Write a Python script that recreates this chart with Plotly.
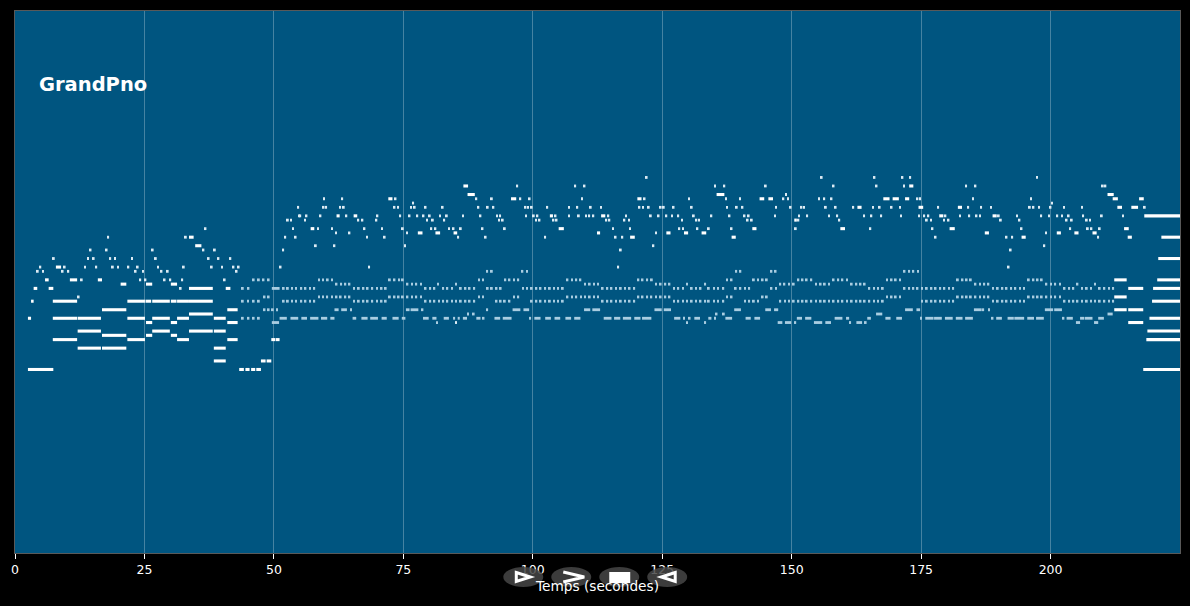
import plotly.graph_objects as go

WHITE_NOTES = "#ffffff"
PALE_NOTES = "#dcebf4"
SOFT_NOTES = "#a9cde1"
SHORT = 0.34

# Each list is one pitch row: a bare number is a short note (its time in seconds),
# a pair is (start, end) in seconds.
m43 = [(2.5,7.4),(43.3,44.2),(44.5,45.3),(45.6,46.4),(46.6,47.5),(217.9,225)]
m45 = [(38.4,40.7),(47.5,48.4),(48.6,49.5)]
m48 = [(12.1,16.6),(16.8,21.5),(38.4,40.7)]
m50 = [(7.3,12),(21.7,25.1),(31.3,33.6),(41,43),(49.5,50.3),(50.4,51.1),(218.5,225)]
m51 = [(16.8,21.5),(25.3,26.5),(30.1,31.3)]
m52 = [(12.1,16.6),(26.5,29.9),(33.6,38.2),(38.4,40.7),(218.7,225)]
m54 = [(25.3,26.5),(30.1,31.3),(41,43),(215,217.9),85.2]
m55 = [(2.5,3.1),(7.3,12),(12.1,16.6),(21.7,25.1),(26.5,29.9),(31.3,33.6),(38.4,40.7),(219.1,225)]
m56 = [(33.6,38.2)]
m57 = [(16.8,21.5),(41,43),(212.3,214.7),(215,217.9)]
m59 = [(3.1,3.6),(7.3,12),(21.7,25.1),(25.2,26.3),(26.5,29.9),(30.1,31.2),(31.3,33.6),(33.6,38.2),(219.6,225)]
m60 = [12.3,(212.3,214.7)]
m62 = [(3.6,4.3),(6.5,7.4),32,(33.6,38.2),(40.7,41.6),(215,217.9),(219.8,225)]
m63 = [(20.4,21.5),(25.3,26.5),(30.1,31.3)]
m64 = [(5.8,6.5),(10.6,12),12.9,(16,16.8),24.2,25.2,28.9,30,32.3,40.5,(212.3,214.7),(220.6,225)]
m66 = [4.4,5.4,9.2,10.3,23.3,24.7,28.3,29.5,42.8]
m67 = [4.9,(7.9,8.9),9.6,13.5,15.7,18.9,19.9,21.9,23.7,27.6,32.6,38,40,42.2,43.2,51.3,68.4,116.5,191.9]
m69 = [7.5,14.1,15.2,18.4,19.3,22.6,27.2,37.4,39.3,41.6,(220.8,225)]
m71 = [14.6,17.7,26.6,36.4,38.6,51.8,117,192.3]
m72 = [(34.8,36),58.1,61.7,75.3,123.3,198.8]
m74 = [18,33,(33.6,34.5),52.2,54.2,68,71.4,85.6,90.9,102.4,116,117.3,(118.8,119.7),(138.4,139.2),177.8,191.5,192.6,(194.4,195.2),209.2,(214.9,215.7),(221.4,225)]
m75 = [62,64.6,75.7,(77.8,78.7),(81.2,82.1),(84.7,85.4),(112.4,113),123.8,(125.8,126.6),(129.2,130),(132.6,133.5),(187.3,188.1),199.1,(201.2,202),(204.6,205.4),(208.1,208.9)]
m76 = [36.8,53.7,(57.1,57.8),58.5,61.2,67.5,70.9,74.9,80.4,81.2,83.8,84.7,86.1,90.3,94.6,(105,106),115.5,118.8,128.3,129,131.8,134,138.4,(142.4,143.2),150.8,(159.4,160.3),165.2,177.2,(180.5,181.5),194.4,203.8,207.2,207.9,209.5,(214.2,215.1)]
m78 = [52.7,53.3,56,66.3,67.1,69.8,79.6,80.7,82.9,93.5,94.2,100.6,101.3,104,104.6,114.2,114.8,117.7,118.6,128.8,131.6,132.1,141.5,142.3,(150.5,151),151.3,159.2,176.1,176.9,179.4,180.3,190.4,194,203.1,204.1,207,207.6]
m79 = [54.9,55.1,56.3,59,(62.1,62.7),64,(65.4,66.1),70,74.4,76.2,77.7,78.9,80.1,82.1,83.4,86.5,89.9,93.1,93.7,98.7,100.2,100.9,(103.3,103.9),104.4,107,108.9,110.3,110.9,111.7,(113.2,114),114.6,118,122.8,124.3,125.8,126.9,128.1,131.1,134.5,138,140.9,141.7,146.8,151.4,153,157.2,158.8,164,165.4,167.3,171.1,174.6,175.6,176.4,(178.5,179.3),179.7,182.5,184.3,185.7,186.4,(188.8,189.6),190,193.5,198.2,199.7,201.3,202.2,203.5,206.3,209.9,214,(218.1,225)]
m81 = [54.7,59.6,60.1,62.8,63.5,73.3,74,76.5,77.2,79.3,82.6,89.5,91.3,92.4,98.6,99.1,99.8,102.8,107,108.6,111.2,113.2,120.6,121.3,122.4,124.7,125.3,127.2,130.7,137.5,139.4,140.5,147,149.8,151.9,152.4,156.6,158.5,161.9,(162.7,163.5),165.7,167,169.3,170.9,(174.5,175.4),178.3,(182.1,182.9),184.1,186.6,188.5,196,196.7,197.8,200,202.6,206.1,(212.9,213.8),(215.6,216.9),218.2]
m82 = [76.9,200.3]
m83 = [59.7,63.2,(72.1,72.9),73.5,89.1,92.1,(95.8,96.8),97.6,99.4,109.5,(120.2,121),121.6,130.2,137.3,140,(143.8,144.7),(145.5,146.4),148.4,149.3,155.3,156.3,157.7,(167.7,168.9),(169.5,170.7),(171.9,172.7),174.3,174.8,185,196.2,(212,213),(217.1,218)]
m84 = [(87.4,88.8),(135.5,137),148.9,(211,212.2)]
m86 = [(86.6,87.5),97,108.2,110,135.2,137,145,158.1,166.4,171.7,(172.7,173.5),183.7,185.5,210.1,210.6]
m88 = [122,155.8,166,171.4,172.9,197.4]

a54 = [(49.6,51),81.5,129.8,133.3,(147.3,148.2),(148.7,149.9),150.7,(154.3,155.9),(156.5,157.6),161.3,(162.5,163.6),164.3,(204.9,205.7),(208.4,209.2)]
a55 = [44,45.1,46.1,47.1,(51.1,52.5),(53.2,54.7),(55.3,56.4),(57,58.6),(59.1,60.3),(60.9,61.7),(65.2,65.9),(66.9,68.1),(68.6,70.1),(70.8,71.8),(72.9,74.1),(74.7,75.4),(78.8,79.9),(80.6,81.4),(82.8,83.8),(84.6,85),(85.5,85.9),(86.5,87.3),(89.1,89.9),90.5,(92.6,93.7),(94.2,95.9),99.5,(100.3,101.5),(102.4,103.5),(104.2,105.3),(106.3,107.4),(108,109.2),(113.7,115.2),(115.7,116.9),(117.4,119),(119.6,120.8),(121.1,122.9),(127.3,128.5),129.2,130.3,(131.2,132.3),(133.9,134.5),135.2,(137.2,138.5),(141.1,142.1),(142.8,143.9),(151,152),(152.6,153.8),(158.3,159.8),(160.5,161.1),(164.6,165.3),(168.1,169.1),(170.2,171.3),175,(175.8,177.4),(177.5,179),(179.6,181.1),(181.7,183),(183.5,185),188.8,(189.5,190.6),(191.7,192.9),(193,194.9),(195.5,196.8),(197.2,198.7),202.5,(203.1,204.3),(205.7,206.5),(206.6,208.1),(209.2,210.3)]
a56 = [87.5,88.6,135.5,136.9,(166.3,167.5),(211,212)]
a57 = [48.2,49,49.8,50.6,(61.7,62.5),(63,64.1),64.9,(75.5,76.2),(76.4,77.9),78.7,91.2,(96.1,97.6),(98.2,99.3),(109.9,111.1),(111.5,113),(123.5,124.9),(125.3,126.7),(138.9,140.2),(144.9,146),(146.6,147.4),(171.9,173.4),(174.1,174.8),(185.2,186.7),187,188.1,(198.9,200.5),(200.7,202.2)]
a59 = [44,45,46.1,47.1,51.9,52.7,53.5,54.3,55.3,56.1,57,57.8,65.5,66.4,67.3,68.1,69,69.9,70.8,71.6,79.3,80.2,81,81.9,82.7,83.5,84.4,85.2,86.1,87,87.8,88.7,93,93.8,94.6,95.5,99.8,100.7,101.5,102.4,103.3,104.1,104.9,105.8,113.5,114.4,115.2,116.1,117,117.8,118.7,119.6,127.3,128.1,129,129.8,130.7,131.5,132.4,133.3,134,135,135.8,136.8,141,141.8,142.7,143.5,147.8,148.7,149.5,150.4,151.3,152.1,152.9,153.8,154.7,155.6,156.4,157.2,158.1,159,159.8,160.7,161.6,162.5,163.3,164.1,165,165.9,166.7,167.6,175.2,176.1,177,177.8,178.7,179.5,180.4,181.2,188.9,189.8,190.7,191.5,192.4,193.2,194.1,194.9,202.7,203.6,204.4,205.2,206.1,207,207.8,208.6,209.5,210.4,211.3,212.1]
a60 = [48.2,49,58.7,59.5,60.3,61.2,62.1,62.9,63.8,64.6,72.4,73.3,74.1,74.9,75.8,76.7,77.5,78.4,89.6,90.4,96.4,97.2,106.7,107.6,108.4,109.3,110.1,111,111.8,112.6,120.4,121.2,122.1,122.9,123.8,124.7,125.6,126.4,137.5,138.4,144.4,145.2,168.4,169.3,170.1,170.9,182.1,183,183.8,184.6,185.5,186.4,187.2,188,195.8,196.7,197.5,198.3,199.2,200.1,200.9,201.8]
a62 = [44,45.1,(49.6,51.1),51.9,52.7,53.5,54.3,55.3,56.1,57,57.8,65.5,66.4,67.3,68.1,69,69.9,70.8,71.6,79.3,80.2,81,82.7,83.5,84.4,86.1,87,87.8,88.7,91.3,92.1,93,93.8,98.1,98.9,99.8,100.7,101.5,102.4,103.3,104.1,104.9,105.8,113.5,114.4,115.2,116.1,117,117.8,118.7,119.6,127.3,128.1,129,130.7,131.5,132.4,134,135,135.8,136.8,139.2,140.1,141,141.8,146.1,147,165,165.9,166.7,167.6,171.8,172.7,173.5,174.3,175.2,176.1,177,177.8,178.7,179.5,180.4,181.2,188.9,189.8,190.7,191.5,192.4,193.2,194.1,194.9,202.7,203.6,204.4,206.1,207,207.8,209.5,210.4,211.3,212.1]
a63 = [62.1,63,63.8,64.6,75.8,76.7,77.5,78.4,81.7,85.2,110.1,111,111.8,112.6,123.8,124.7,125.6,126.4,129.8,133.3,147.8,148.6,149.5,150.4,154.7,155.6,156.4,157.2,161.6,162.5,163.3,164.1,185.5,186.4,187.2,188,199.2,200.1,200.9,201.8,205.2,208.6]
a64 = [46.1,47.1,48,49,58.7,59.5,60.4,61.2,72.4,73.3,74.2,74.9,89.6,90.4,94.7,95.5,96.4,97.2,106.7,107.6,108.4,109.2,120.4,121.2,122.1,123,137.5,138.4,142.7,143.5,144.4,145.2,151.3,152.1,152.9,153.8,158.1,159,159.8,160.7,168.4,169.3,170.1,170.9,182.1,183,183.8,184.6,195.8,196.7,197.5,198.3]
a66 = [91.2,92.1,98,98.9,139.3,140.1,146.1,146.9,171.8,172.7,173.5,174.4]

note_rows = [(m43,43),(m45,45),(m48,48),(m50,50),(m51,51),(m52,52),(m54,54),(m55,55),(m56,56),(m57,57),(m59,59),(m60,60),(m62,62),(m63,63),(m64,64),(m66,66),(m67,67),(m69,69),(m71,71),(m72,72),(m74,74),(m75,75),(m76,76),(m78,78),(m79,79),(m81,81),(m82,82),(m83,83),(m84,84),(m86,86),(m88,88)]
soft_rows = [(a54,54),(a55,55),(a56,56),(a57,57),(a59,59),(a60,60),(a62,62),(a63,63),(a64,64),(a66,66)]
x_ticks = [0,25,50,75,100,125,150,175,200]


def bars(rows, color, keep=lambda n: True, height=0.72):
    ys, bases, lens = [], [], []
    for notes, pitch in rows:
        for n in notes:
            if not keep(n):
                continue
            if isinstance(n, tuple):
                s, e = n
            else:
                s, e = n - SHORT / 2, n + SHORT / 2
            ys.append(pitch)
            bases.append(s)
            lens.append(e - s)
    return go.Bar(y=ys, x=lens, base=bases, orientation="h", width=height,
                  marker=dict(color=color, line=dict(width=0)),
                  showlegend=False, hoverinfo="skip")


is_long = lambda n: isinstance(n, tuple)
is_short = lambda n: not isinstance(n, tuple)
fig = go.Figure([
    bars(soft_rows, SOFT_NOTES, height=0.66),
    bars(note_rows, PALE_NOTES, is_short, height=0.66),
    bars(note_rows, WHITE_NOTES, is_long),
])

W, H = 1190, 606
L, R, T, B = 14.5, 1180, 11, 553


def to_paper(x, y):
    return (x - L) / (R - L), (B - y) / (B - T)


def path(points, close=True):
    parts = []
    for i, (x, y) in enumerate(points):
        px, py = to_paper(x, y)
        parts.append(("M" if i == 0 else "L") + f"{px:.5f},{py:.5f}")
    return " ".join(parts) + (" Z" if close else "")


shapes = []
for cx in (523, 571, 619, 667):
    x0, y0 = to_paper(cx - 20, 587)
    x1, y1 = to_paper(cx + 20, 567)
    shapes.append(dict(type="circle", xref="paper", yref="paper", x0=x0, y0=y0, x1=x1, y1=y1,
                       fillcolor="rgba(70,70,70,0.85)", line=dict(width=0), layer="above"))
shapes.append(dict(type="path", xref="paper", yref="paper", path=path([(516,572.5),(530,577),(516,581.5)]),
                   fillcolor="rgba(0,0,0,0)", line=dict(color="#ffffff", width=3), layer="above"))
shapes.append(dict(type="path", xref="paper", yref="paper", path=path([(563,572),(584,577),(563,582)], close=False),
                   fillcolor="rgba(0,0,0,0)", line=dict(color="#ffffff", width=3), layer="above"))
x0, y0 = to_paper(609, 583)
x1, y1 = to_paper(630, 572)
shapes.append(dict(type="rect", xref="paper", yref="paper", x0=x0, y0=y0, x1=x1, y1=y1,
                   fillcolor="#ffffff", line=dict(width=0), layer="above"))
shapes.append(dict(type="path", xref="paper", yref="paper", path=path([(675,572.5),(661,577),(675,581.5)]),
                   fillcolor="rgba(0,0,0,0)", line=dict(color="#ffffff", width=3), layer="above"))

fig.update_layout(
    width=W, height=H, autosize=False,
    paper_bgcolor="#000000", plot_bgcolor="#005580",
    margin=dict(l=L, r=W - R, t=T, b=H - B, pad=0),
    barmode="overlay",
    font=dict(family="DejaVu Sans", color="#ffffff", size=13),
    xaxis=dict(range=[0, 225], tickvals=x_ticks, ticks="outside", ticklen=5, tickcolor="#ffffff",
               tickwidth=1, showgrid=True, gridcolor="rgba(255,255,255,0.27)", gridwidth=1,
               zeroline=False, showline=True, mirror=True, linecolor="rgba(255,255,255,0.35)", linewidth=1,
               title=dict(text="Temps (secondes)", font=dict(size=13.7, color="#ffffff"), standoff=5),
               tickfont=dict(size=12.5, color="#ffffff")),
    yaxis=dict(range=[0, 127], showticklabels=False, ticks="", showgrid=False, zeroline=False,
               showline=True, mirror=True, linecolor="rgba(255,255,255,0.35)", linewidth=1),
    annotations=[dict(text="<b>GrandPno</b>", xref="paper", yref="paper", x=(36.5 - L) / (R - L), y=(B - 84.5) / (B - T),
                      xanchor="left", yanchor="middle", showarrow=False,
                      font=dict(size=19.5, color="#ffffff", family="DejaVu Sans"))],
    shapes=shapes,
)

fig.write_html("out.html", config={"displayModeBar": False},
               post_script="document.body.style.margin='0';document.body.style.background='#000';document.documentElement.style.overflow='hidden';")
